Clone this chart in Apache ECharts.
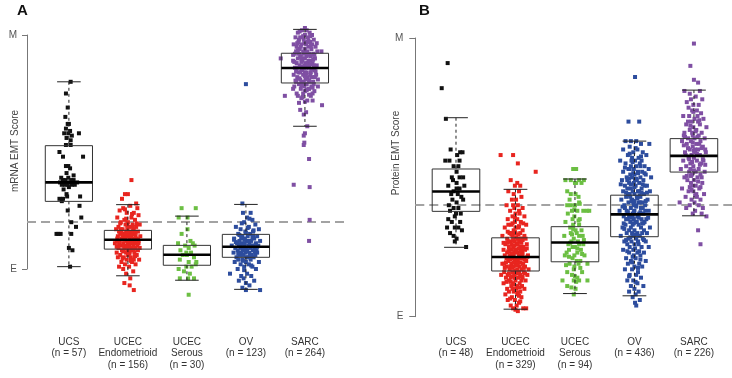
<!DOCTYPE html>
<html>
<head>
<meta charset="utf-8">
<script src="https://cdn.jsdelivr.net/npm/echarts@6/dist/echarts.min.js"></script>
<style>
  html, body { margin: 0; padding: 0; background: #fff; }
  #main { width: 732px; height: 378px; }
</style>
</head>
<body>
<div id="main"></div>
<script>
// category labels
var catsA = ['UCS\n(n = 57)', 'UCEC\nEndometrioid\n(n = 156)', 'UCEC\nSerous\n(n = 30)', 'OV\n(n = 123)', 'SARC\n(n = 264)'];
var catsB = ['UCS\n(n = 48)', 'UCEC\nEndometrioid\n(n = 329)', 'UCEC\nSerous\n(n = 94)', 'OV\n(n = 436)', 'SARC\n(n = 226)'];
var colors = ['#111111', '#e8251f', '#6cbf43', '#2d4d9e', '#7f4fa3'];

// E = 0, M = 100 ; dashed cut-off
var cutA = 20;
var cutB = 40;

// box stats: [low whisker, q1, median, q3, high whisker]
var boxA = [
  [1, 28.9, 37, 52.7, 80],
  [-2.9, 8.5, 12.5, 16.5, 27.5],
  [-4.8, 1.6, 6.1, 10.1, 22.6],
  [-8.7, 5, 9.5, 14.8, 27.6],
  [61, 79.5, 85.9, 92.2, 102.4]
];
var boxB = [
  [24.9, 37.8, 44.9, 53, 71.4],
  [2.7, 16.4, 21.4, 28.3, 45.7],
  [8.3, 19.7, 26.6, 32.3, 49.4],
  [7.5, 28.7, 36.7, 43.6, 63],
  [36.2, 51.9, 57.7, 63.9, 81.3]
];

// points: [jitter (1/100 of a category), score]
var ucsA = [[3,80],[-5,75],[-2,69],[-6,65],[-2,62],[0,62],[-5,60],[2,59],[-8,58],[-1,58],[5,57],[17,58],[-4,56],[3,55],[-5,53],[3,53],[-16,50],[-10,48],[24,48],[-5,44],[-1,44],[2,43],[-4,41],
  [-15,37],[-10,38],[-4,37],[2,37],[8,38],[14,37],[-7,36],[5,36],[-1,39],[-13,39],[0,35],[-9,34],[8,40],[-12,36],[4,38],[-2,36],[10,36],[-6,38],
  [-4,32],[19,31],[-12,29],[18,27],[-16,30],[-10,30],[-3,31],[-2,25],[21,22],[4,20],[12,18],[-21,15],[-14,15],[-18,15],[4,15],[0,9],[6,8],[2,1]];
var endoA = [[6,38],[-5,32],[0,32],[-10,30],[14,28],[-8,26],[16,26],[4,27],[-14,25],[10,24],[-2,24],[18,23],[-18,22],[6,22],[-6,21],[12,21],[0,20],[-12,20],[20,19],[-4,19],[8,19],[-16,18],[2,18],[14,18],[-9,17],[10,17],[-20,17],[5,16],[-3,16],[17,16],[-13,15],[1,15],[11,15],[-7,15],[21,14],[-17,14],[6,14],[-1,14],[15,13],[-11,13],[3,13],[-5,13],[9,13],[-19,12],[18,12],[-2,12],[7,12],[-14,12],[12,11],[0,11],[-8,11],[4,11],[-22,11],[16,10],[-4,10],[9,10],[-12,10],[2,10],[20,9],[-6,9],[6,9],[-16,9],[13,9],[-1,8],[-10,8],[8,8],[17,8],[-19,7],[3,7],[-3,7],[11,7],[-13,6],[0,6],[15,6],[-7,5],[5,5],[-17,5],[10,4],[-2,4],[19,4],[-11,3],[7,3],[-5,2],[13,2],[-15,1],[2,1],[-8,0],[9,-1],[-3,-2],[4,-4],[-6,-6],[3,-7],[10,-9],
  [-9,14],[7,15],[-15,16],[13,14],[1,12],[-7,10],[18,11],[-18,13],[4,8],[-4,15],[11,12],[-12,17],[8,18],[-1,17],
  [-4,13.5],[6,11.5],[-11,16.5],[13,15.5],[1,9.5],[-8,7.5],[10,8.5],[-1,18.5],[15,19.5],[-15,10.5],[4,14.5],[-6,12.5],[9,16.5],[-13,19.5],[2,6.5],[17,12.5],[-19,9.5],[-3,21.5],[7,23.5],[-9,4.5],[12,5.5],[0,15.5],[-5,25.5],[5,3.5],[-2,9.5]];
var serousA = [[-9,26],[15,26],[-14,22],[1,22],[-9,15],[1,17],[-15,11],[6,12],[10,11],[-3,10],[13,10],[3,9],[-11,8],[-1,7],[7,7],[-7,6],[0,6],[12,5],[-12,4],[3,3],[16,3],[-1,1],[8,1],[15,2],[-14,0],[5,-2],[-5,-1],[12,-4],[2,-4],[-12,-4],[3,-11]];
var ovA = [[0,79],[-6,28],[-5,24],[8,24],[2,22],[11,21],[-3,20],[16,19],[-17,18],[5,18],[22,17],[-9,17],[12,16],[-1,16],[-13,15],[7,15],[19,14],[-6,14],[3,14],[-20,13],[14,13],[-2,13],[9,12],[-11,12],[24,12],[1,12],[-15,11],[6,11],[-7,11],[17,11],[-24,10],[11,10],[-3,10],[4,10],[-12,10],[21,10],[-9,9],[8,9],[0,9],[15,9],[-18,9],[-5,8],[12,8],[2,8],[-14,8],[19,7],[-8,7],[6,7],[-1,7],[-21,7],[10,6],[-4,6],[16,6],[-10,6],[3,5],[-16,5],[13,5],[-6,4],[8,4],[-13,4],[0,3],[22,3],[-19,3],[5,2],[-9,2],[11,1],[-3,1],[-14,0],[17,0],[-27,-2],[2,-2],[-8,-3],[9,-3],[-4,-4],[14,-5],[-12,-5],[0,-6],[6,-7],[-6,-8],[0,-9],[24,-9],
  [4,12],[-8,13],[12,14],[-4,9],[7,6],[-11,7],[13,10],[-2,11],[18,8],[1,5],
  [-2,12.5],[5,9.5],[-9,10.5],[11,13.5],[0,15.5],[-13,6.5],[8,5.5],[-5,3.5],[15,7.5],[-17,11.5],[3,17.5],[-7,19.5],[9,1.5],[-3,-0.5],[13,16.5],[-11,14.5],[1,7.5],[19,9.5],[-20,12.5],[6,21.5]];
var sarcA = [[-34,74],[29,70],[-8,68],[2,67],[-2,66],[4,61],[0,58],[-2,57],[-1,54],[-2,53],[7,47],[-19,36],[8,35],[8,21],[7,12],[-41,90],[28,93],
  [-14,75],[16,76],[-6,73],[10,74],[-20,77],[4,72],[22,78],[-10,71],[13,72],[-3,75],[7,77],
  [-5,102],[3,102],[-12,101],[8,101],[0,100],[-16,99],[12,100],[-8,99],[5,99],[-2,98],[15,98],[-11,97],[9,97],[-19,96],[2,96],[-6,96],[18,95],[-14,95],[6,95],[0,94],[-9,94],[11,94],[21,93],[-3,93],[-17,92],[7,92],[14,92],[-7,91],[3,91],[-12,90],[17,90],[0,90],[-20,89],[9,89],[-5,89],[5,88],[-14,88],[13,88],[-1,87],[20,87],[-9,87],[7,86],[-17,86],[2,86],[16,85],[-6,85],[-11,84],[10,84],[0,84],[-19,83],[19,83],[-3,83],[5,82],[-13,82],[12,82],[-8,81],[1,81],[22,81],[-15,80],[8,80],[-4,80],[15,79],[-10,79],[3,79],[-1,78],[-18,78],[11,78],[6,77],[-7,77],[0,76],[13,75],[-12,74],
  [-4,85],[4,93],[-10,92],[10,91],[-15,93],[15,87],[-2,92],[6,89],[-8,84],[3,84],[-13,86],[17,82],[-6,80],[9,83],[1,88],[-3,90],[12,96],[-10,98],[4,97],[0,103],[-7,95],[-1,86],[14,80],
  [-3,99.5],[6,97.5],[-13,96.5],[10,95.5],[1,92.5],[-8,90.5],[16,91.5],[-18,88.5],[4,87.5],[-4,86.5],[11,85.5],[-15,84.5],[0,82.5],[18,84.5],[-10,81.5],[7,80.5],[-2,79.5],[13,77.5],[-6,78.5],[3,76.5],[-20,91.5],[20,96.5],[-9,101.5],[9,99.5],[-1,96.5],[14,89.5],[-12,93.5],[5,91.5],[-6,88.5],[2,83.5],[-16,80.5],[10,87.5],[-4,73.5],[7,74.5],[0,71.5]];

var ucsB = [[-14,91],[-24,82],[-17,71],[-9,60],[7,59],[11,59],[2,58],[-18,56],[-11,56],[6,56],[-4,54],[4,54],[1,52],[-7,50],[6,50],[12,50],[-5,49],[1,48],[-13,47],[1,46],[6,46],[-4,45],[-8,44],[9,43],[12,42],[1,41],[-4,39],[4,39],[-10,38],[0,37],[-2,36],[-13,35],[-7,34],[7,34],[-2,32],[4,32],[-15,32],[10,31],[-4,29],[1,28],[-2,27],[17,25],[-10,30],[3,44],[-6,42],[8,37],[-12,40],[14,47]];
var endoB = [[-25,58],[-4,58],[4,55],[34,52],[-8,49],[3,48],[-1,47],[8,47],[-12,45],[6,45],[-3,44],[10,43],[-6,42],[1,42],[-15,40],[4,40],[-2,39],[12,39],[-9,38],[0,37],[7,37],[-5,36],[15,36],[-13,35],[3,35],[-1,34],[9,34],[-7,33],[18,33],[-18,32],[5,32],[-3,31],[12,31],[0,30],[-10,30],[8,30],[-22,29],[15,29],[-5,29],[3,28],
  [-14,28],[11,28],[-1,27],[6,27],[-8,27],[19,26],[-17,26],[2,26],[13,25],[-4,25],[-11,25],[8,25],[-20,24],[0,24],[16,24],[-6,24],[4,23],[-14,23],[11,23],[-2,23],[21,22],[-9,22],[6,22],[-18,22],[1,21],[14,21],[-5,21],[9,21],[-12,20],[-1,20],[18,20],[4,20],[-22,19],[-7,19],[12,19],[0,19],[-15,18],[7,18],[-3,18],[16,18],[-10,17],[3,17],[10,17],[-19,16],[-5,16],[14,16],[1,16],[-13,15],[8,15],[-2,15],[20,15],[-8,14],[5,14],[-16,14],[12,14],[0,13],[-11,13],[17,13],[-4,12],[7,12],[-20,12],[3,11],[-7,11],[11,11],[-14,10],[1,10],[15,10],[-3,9],[8,9],[-11,9],[-17,8],[4,8],[-6,7],[10,7],[-1,6],[-13,6],[6,5],[-8,4],[2,4],[13,3],[-4,3],[4,2],[18,3],
  [-6,30],[9,28],[-12,27],[4,26],[-3,22],[7,21],[-9,18],[2,19],[-15,21],[13,19],[-1,14],[6,16],[-10,24],[17,28],[-19,19],[10,13],[-5,10],[-24,15],[22,17],[0,32],[-12,33],[6,38],[-4,40],[11,24],[-7,26],
  [-2,25.5],[5,24.5],[-9,20.5],[12,22.5],[-14,26.5],[1,28.5],[8,19.5],[-5,17.5],[15,20.5],[-11,15.5],[3,15.5],[-7,22.5],[10,26.5],[-1,30.5],[6,32.5],[-16,19.5],[19,24.5],[-4,27.5],[2,23.5],[-12,23.5],[14,17.5],[-8,12.5],[7,10.5],[-2,11.5],[11,14.5],[-18,17.5],[4,18.5],[-6,14.5],[16,15.5],[0,16.5],[-10,21.5],[9,23.5],[-3,19.5],[5,29.5],[-13,30.5],[13,33.5],[-1,35.5],[3,8.5],[-9,6.5],[8,5.5],[0,2.5],[-5,33.5],[12,27.5],[-20,26.5],[20,21.5],[-15,12.5],[6,7.5],[-3,25.5],[1,18.5],[-7,29.5]];
var serousB = [[2,53],[-3,53],[-16,49],[-7,49],[7,49],[15,49],[2,48],[11,48],[0,48],[-13,45],[1,44],[-7,44],[-9,42],[7,41],[-7,40],[14,38],[24,38],[-13,40],[-5,38],[4,38],[20,38],[-1,36],
  [-16,34],[-3,33],[7,33],[1,31],[-7,30],[-18,29],[7,29],[-2,28],[-11,26],[7,26],[14,26],[-4,25],[-14,23],[4,23],[-4,21],[9,20],[-9,19],[21,19],[-2,17],[-13,16],[12,16],[4,14],[-21,13],[-2,13],[7,13],[21,13],[-13,11],[1,10],[-2,8],
  [3,30],[-6,27],[10,24],[-1,22],[6,19],[-10,24],[13,29],[-4,35],[8,35],[0,25],[-8,32],[5,27],[-17,22],[16,22],[-1,18],[11,31],[-5,15],[3,20],[-12,37],[0,40],[6,43],
  [-5,29.5],[4,24.5],[-10,21.5],[9,17.5],[0,14.5],[-3,31.5],[6,34.5],[-8,26.5],[12,22.5],[-15,18.5],[2,12.5],[-6,10.5],[15,27.5],[-1,38.5],[8,40.5]];
var ovB = [[1,86],[-10,70],[8,70],[-6,63],[25,62],[-15,63],[3,63],[11,62],
  [-8,61],[5,60],[-19,60],[14,59],[-2,59],[20,58],[-11,58],[7,57],[-4,57],[-24,56],[12,56],[1,56],
  [-15,55],[9,55],[-6,54],[17,54],[3,54],[-10,53],[24,53],[-1,53],[13,52],[-19,52],[6,52],[-7,51],[19,51],[0,51],[-13,50],[10,50],[-4,50],[28,50],
  [-21,49],[4,49],[15,49],[-9,48],[-1,48],[8,48],[-16,47],[21,47],[2,47],[-6,46],[12,46],[-12,46],[26,45],[-3,45],[6,45],[-19,45],
  [16,44],[-8,44],[0,44],[10,43],[-14,43],[4,43],[22,42],[-4,42],[-22,42],[13,41],[-10,41],[7,41],[-1,40],[18,40],[-17,40],[3,40],
  [-6,39],[11,39],[-13,38],[24,38],[0,38],[-25,38],[8,37],[-3,37],[15,37],[-9,36],[5,36],[-18,36],[20,35],[-1,35],[-11,35],[12,35],
  [2,34],[-7,34],[17,34],[-15,33],[7,33],[-3,33],[26,32],[-20,32],[11,32],[0,31],[-9,31],[16,31],[5,30],[-13,30],[-4,30],[21,30],
  [-23,29],[9,29],[-1,29],[14,28],[-10,28],[3,28],[-17,27],[19,27],[-5,27],[7,26],[-12,26],[0,26],[24,25],[-8,25],[12,25],
  [-2,24],[-19,24],[5,23],[16,23],[-9,23],[-1,22],[10,22],[-14,21],[2,21],[-6,20],[19,20],
  [8,19],[-11,19],[0,18],[13,18],[-4,17],[-16,17],[6,16],[-8,15],[3,15],
  [11,14],[-2,13],[-12,13],[5,12],[-6,11],[15,11],[0,10],[-9,9],[7,9],[2,8],[-3,7],[9,6],[1,5],[3,4],
  [-5,56],[10,54],[-12,49],[17,47],[-7,43],[8,45],[-2,41],[14,39],[-16,39],[4,34],[-6,32],[13,30],[-3,36],[9,41],[-11,44],[1,49],[-8,53],[18,38],[6,27],[-14,35],
  [-3,55.5],[6,51.5],[-9,49.5],[14,47.5],[0,46.5],[-14,44.5],[9,43.5],[-5,41.5],[3,39.5],[19,41.5],[-11,37.5],[7,35.5],[-1,33.5],[13,33.5],[-17,31.5],[4,29.5],[-7,28.5],[16,27.5],[1,24.5],[-12,23.5],[10,20.5],[-4,19.5],[6,17.5],[-9,14.5],[2,12.5],[-2,51.5],[11,57.5],[-16,53.5],[21,44.5],[-20,39.5],[5,42.5],[-6,47.5],[-1,37.5],[10,37.5],[-14,27.5],[8,23.5],[-3,21.5],[15,33.5],[-9,43.5],[3,49.5],[-23,47.5],[23,35.5],[0,41.5],[-5,35.5],[12,44.5],[-8,58.5],[2,60.5],[-18,33.5],[17,51.5],[-2,29.5]];
var sarcB = [[0,98],[-6,90],[0,85],[7,84],[10,81],[-16,81],[-7,80],[-5,78],[3,79],[14,78],[-12,77],[8,76],[-1,76],[-9,75],[5,74],[-3,74],[12,73],[-18,72],[-8,72],[1,71],[16,71],[-4,70],[7,70],[-13,69],[10,69],[-1,68],[21,68],[-7,67],[4,67],[-16,66],[13,66],[-2,65],[8,65],[-10,64],[18,64],[1,64],[-5,63],[-20,63],[11,63],[4,62],[-12,62],[-2,61],[15,61],[-7,60],[7,60],[-15,59],[2,59],[20,59],[-4,58],[10,58],[-9,57],[0,57],[16,56],[-18,56],[5,56],[-6,55],[12,55],[-1,54],[-13,54],[8,53],[-22,53],[3,52],[18,52],[-8,52],[-3,51],[11,51],[-16,50],[6,50],[0,49],[-11,49],[14,48],[-5,48],[3,47],[-20,46],[9,46],[-1,45],[-9,45],[17,44],[4,44],[-14,43],[-4,42],[11,42],[-24,41],[1,41],[-7,40],[8,40],[-13,39],[15,39],[2,38],[-2,37],[21,36],[13,37],[7,31],[11,26],
  [-3,66],[6,72],[-10,70],[2,60],[-6,53],[9,62],[-14,58],[13,50],[-2,47],[5,43],[-17,65],[19,60],
  [-2,62.5],[5,58.5],[-8,56.5],[10,54.5],[0,52.5],[-12,50.5],[7,48.5],[-4,45.5],[13,60.5],[-15,64.5],[3,66.5],[-6,68.5],[9,70.5],[-1,73.5],[-10,60.5],[15,56.5],[2,43.5],[-7,46.5],[11,46.5],[-3,55.5],[6,64.5],[-17,61.5],[19,54.5],[0,59.5],[-5,50.5]];

var groupsA = [ucsA, endoA, serousA, ovA, sarcA];
var groupsB = [ucsB, endoB, serousB, ovB, sarcB];

var chart = echarts.init(document.getElementById('main'));
var font = 'Liberation Sans, Arial, sans-serif';

function boxItem(params, api) {
  var x = api.value(0);
  var lo = api.coord([x, api.value(1)]);
  var q1 = api.coord([x, api.value(2)]);
  var md = api.coord([x, api.value(3)]);
  var q3 = api.coord([x, api.value(4)]);
  var hi = api.coord([x, api.value(5)]);
  var bw = api.size([0.8, 0])[0];
  var cw = api.size([0.4, 0])[0];
  var cx = lo[0];
  var dash = { stroke: '#222', lineWidth: 1, lineDash: [3, 3] };
  var solid = { stroke: '#222', lineWidth: 1 };
  return {
    type: 'group',
    children: [
      { type: 'line', shape: { x1: cx, y1: hi[1], x2: cx, y2: q3[1] }, style: dash },
      { type: 'line', shape: { x1: cx, y1: q1[1], x2: cx, y2: lo[1] }, style: dash },
      { type: 'line', shape: { x1: cx - cw / 2, y1: hi[1], x2: cx + cw / 2, y2: hi[1] }, style: solid },
      { type: 'line', shape: { x1: cx - cw / 2, y1: lo[1], x2: cx + cw / 2, y2: lo[1] }, style: solid },
      { type: 'rect', shape: { x: cx - bw / 2, y: q3[1], width: bw, height: q1[1] - q3[1] }, style: { fill: 'none', stroke: '#333', lineWidth: 1 } },
      { type: 'line', shape: { x1: cx - bw / 2, y1: md[1], x2: cx + bw / 2, y2: md[1] }, style: { stroke: '#000', lineWidth: 2.6 } }
    ]
  };
}

function boxData(stats) {
  return stats.map(function (s, i) { return [i + 1].concat(s); });
}

var series = [];
function addPanel(groups, stats, gridIdx, cut) {
  groups.forEach(function (g, i) {
    var s = {
      type: 'scatter',
      xAxisIndex: gridIdx,
      yAxisIndex: gridIdx,
      symbol: 'rect',
      symbolSize: 4,
      silent: true,
      itemStyle: { color: colors[i], opacity: 1 },
      data: g.map(function (p) { return [i + 1 + p[0] / 100, p[1]]; }),
      z: 2
    };
    if (i === 0) {
      s.markLine = {
        silent: true,
        symbol: 'none',
        label: { show: false },
        lineStyle: { color: '#a3a3a3', type: [9, 5], width: 2 },
        data: [{ yAxis: cut }],
        z: 1
      };
    }
    series.push(s);
  });
  series.push({
    type: 'custom',
    xAxisIndex: gridIdx,
    yAxisIndex: gridIdx,
    renderItem: boxItem,
    silent: true,
    encode: { x: 0, y: [1, 2, 3, 4, 5] },
    data: boxData(stats),
    z: 3
  });
}
addPanel(groupsA, boxA, 0, cutA);
addPanel(groupsB, boxB, 1, cutB);

function catLabels(cats, margin) {
  return {
    show: true,
    customValues: [1, 2, 3, 4, 5],
    margin: margin,
    fontSize: 10,
    lineHeight: 11.6,
    color: '#333',
    fontFamily: font,
    formatter: function (v) { return cats[Math.round(v) - 1]; }
  };
}

function meLabels(margin) {
  return {
    show: true,
    margin: margin,
    fontSize: 10,
    color: '#555',
    fontFamily: font,
    formatter: function (v) { return v === 100 ? 'M' : (v === 0 ? 'E' : ''); }
  };
}

var option = {
  animation: false,
  backgroundColor: '#fff',
  grid: [
    { left: 27, top: 11.6, width: 321, height: 292.5 },
    { left: 415.3, top: 38, width: 316.7, height: 278.7 },
    { left: 27, top: 35, width: 321, height: 234 }
  ],
  xAxis: [
    { type: 'value', gridIndex: 0, min: 0.29, max: 5.73, axisLine: { show: false }, axisTick: { show: false }, splitLine: { show: false }, axisLabel: catLabels(catsA, 32) },
    { type: 'value', gridIndex: 1, min: 0.316, max: 5.64, axisLine: { show: false }, axisTick: { show: false }, splitLine: { show: false }, axisLabel: catLabels(catsB, 19.5) },
    { type: 'value', gridIndex: 2, show: false, min: 0, max: 1 }
  ],
  yAxis: [
    { type: 'value', gridIndex: 0, min: -15, max: 110, show: false, splitLine: { show: false } },
    { type: 'value', gridIndex: 1, min: 0, max: 100, interval: 100, splitLine: { show: false },
      axisLine: { show: true, lineStyle: { color: '#777', width: 1 } },
      axisTick: { show: true, length: 6, lineStyle: { color: '#777' } },
      axisLabel: meLabels(12) },
    { type: 'value', gridIndex: 2, min: 0, max: 100, interval: 100, splitLine: { show: false },
      axisLine: { show: true, lineStyle: { color: '#777', width: 1 } },
      axisTick: { show: true, length: 5, lineStyle: { color: '#777' } },
      axisLabel: meLabels(10) }
  ],
  graphic: [
    { type: 'text', left: 17, top: 3, style: { text: 'A', font: 'bold 15px ' + font, fill: '#111' } },
    { type: 'text', left: 419, top: 3, style: { text: 'B', font: 'bold 15px ' + font, fill: '#111' } },
    { type: 'text', x: 15, y: 151, rotation: Math.PI / 2, style: { text: 'mRNA EMT Score', font: '10px ' + font, fill: '#444', align: 'center', verticalAlign: 'middle' } },
    { type: 'text', x: 396, y: 153, rotation: Math.PI / 2, style: { text: 'Protein EMT Score', font: '10px ' + font, fill: '#444', align: 'center', verticalAlign: 'middle' } }
  ],
  series: series
};

chart.setOption(option);
</script>
</body>
</html>
